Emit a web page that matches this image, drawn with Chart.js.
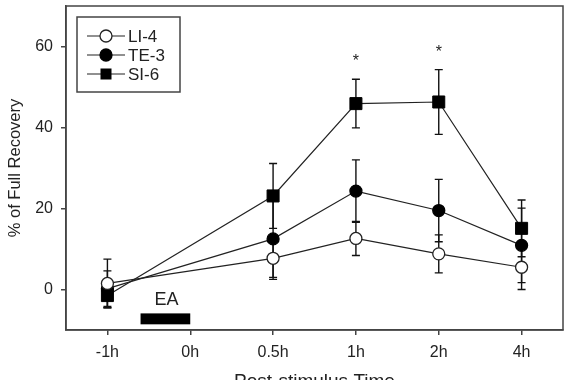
<!DOCTYPE html>
<html>
<head>
<meta charset="utf-8">
<script src="https://cdn.jsdelivr.net/npm/chart.js@4/dist/chart.umd.min.js"></script>
<style>
html, body { margin:0; padding:0; width:568px; height:380px; overflow:hidden; background:#fff; }
#wrap { position:relative; width:568px; height:396px; }
</style>
</head>
<body>
<div id="wrap"><canvas id="c"></canvas></div>
<script>
// ---- data ----
const timeLabels = ['-1h', '0h', '0.5h', '1h', '2h', '4h'];
const timeIndex = [0, 2, 3, 4, 5];           // positions (in timeLabels) of measured points
const seriesNames = ['LI-4', 'TE-3', 'SI-6'];
const li4Mean = [1.5, 7.7, 12.6, 8.8, 5.5];
const li4Err  = [6.0, 5.2, 4.2, 4.7, 5.5];
const te3Mean = [0.2, 12.5, 24.3, 19.5, 10.9];
const te3Err  = [4.4, 9.5, 7.7, 7.7, 9.2];
const si6Mean = [-1.5, 23.1, 45.9, 46.3, 15.1];
const si6Err  = [3.0, 8.0, 6.0, 8.0, 7.0];
const sigMarks = ['', '', '*', '*', ''];      // significance marks above SI-6
const yTicks = [0, 20, 40, 60];
const eaSpan = [0.4, 1.0];                    // EA stimulus interval (x units)
const eaLevel = [-5.9, -8.6];                 // EA bar vertical extent (y units)
const eaText = 'EA';

const FONT = '"Liberation Sans", Arial, sans-serif';
const INK = '#222';
const AXIS = '#444';

function pts(means) { return means.map((v, i) => ({ x: timeIndex[i], y: v })); }

const errs = [li4Err, te3Err, si6Err];

const datasets = [
  { label: seriesNames[0], data: pts(li4Mean), borderColor: INK, borderWidth: 1.2,
    pointStyle: 'circle', pointRadius: 6, pointBackgroundColor: '#fff', pointBorderColor: INK, pointBorderWidth: 1.3 },
  { label: seriesNames[1], data: pts(te3Mean), borderColor: INK, borderWidth: 1.2,
    pointStyle: 'circle', pointRadius: 6, pointBackgroundColor: '#000', pointBorderColor: '#000', pointBorderWidth: 1.3 },
  { label: seriesNames[2], data: pts(si6Mean), borderColor: INK, borderWidth: 1.2,
    pointStyle: 'rect', pointRadius: 8.5, pointBackgroundColor: '#000', pointBorderColor: '#000', pointBorderWidth: 1 }
];
datasets.forEach(d => { d.fill = false; d.tension = 0; d.pointHoverRadius = d.pointRadius; });

const errorBars = {
  id: 'errorBars',
  beforeDatasetsDraw(chart) {
    const { ctx, scales: { x, y } } = chart;
    ctx.save();
    ctx.strokeStyle = '#111';
    ctx.lineWidth = 1.4;
    chart.data.datasets.forEach((ds, di) => {
      ds.data.forEach((p, i) => {
        const e = errs[di][i];
        const px = x.getPixelForValue(p.x);
        const top = y.getPixelForValue(p.y + e);
        const bot = y.getPixelForValue(p.y - e);
        ctx.beginPath();
        ctx.moveTo(px, top); ctx.lineTo(px, bot);
        ctx.moveTo(px - 4, top); ctx.lineTo(px + 4, top);
        ctx.moveTo(px - 4, bot); ctx.lineTo(px + 4, bot);
        ctx.stroke();
      });
    });
    ctx.restore();
  }
};

const extras = {
  id: 'extras',
  afterDraw(chart) {
    const { ctx, chartArea: a, scales: { x, y } } = chart;
    ctx.save();
    // frame
    ctx.strokeStyle = AXIS;
    ctx.lineWidth = 1.5;
    ctx.strokeRect(a.left, a.top, a.right - a.left, a.bottom - a.top);
    // significance marks
    ctx.fillStyle = INK;
    ctx.font = '16px ' + FONT;
    ctx.textAlign = 'center';
    ctx.textBaseline = 'alphabetic';
    sigMarks.forEach((m, i) => {
      if (!m) return;
      const px = x.getPixelForValue(timeIndex[i]);
      const top = y.getPixelForValue(si6Mean[i] + si6Err[i]);
      ctx.fillText(m, px, top - 13);
    });
    // EA bar
    const x0 = x.getPixelForValue(eaSpan[0]), x1 = x.getPixelForValue(eaSpan[1]);
    const y0 = y.getPixelForValue(eaLevel[0]), y1 = y.getPixelForValue(eaLevel[1]);
    ctx.fillStyle = '#000';
    ctx.fillRect(x0, y0, x1 - x0, y1 - y0);
    ctx.fillStyle = INK;
    ctx.font = '18px ' + FONT;
    ctx.textBaseline = 'alphabetic';
    ctx.fillText(eaText, (x0 + x1) / 2 + 1, y0 - 8);
    // legend
    const lx = 77, ly = 17, lw = 103, lh = 75;
    ctx.fillStyle = '#fff';
    ctx.fillRect(lx, ly, lw, lh);
    ctx.strokeStyle = AXIS;
    ctx.lineWidth = 1.5;
    ctx.strokeRect(lx, ly, lw, lh);
    chart.data.datasets.forEach((ds, i) => {
      const cy = ly + 19 + i * 19;
      ctx.strokeStyle = INK;
      ctx.lineWidth = 1.2;
      ctx.beginPath(); ctx.moveTo(lx + 10, cy); ctx.lineTo(lx + 48, cy); ctx.stroke();
      const mx = lx + 29;
      ctx.fillStyle = ds.pointBackgroundColor;
      ctx.strokeStyle = ds.pointBorderColor;
      ctx.lineWidth = 1.3;
      if (ds.pointStyle === 'rect') {
        ctx.fillRect(mx - 5.5, cy - 5.5, 11, 11);
      } else {
        ctx.beginPath(); ctx.arc(mx, cy, 6, 0, Math.PI * 2); ctx.fill(); ctx.stroke();
      }
      ctx.fillStyle = INK;
      ctx.font = '17px ' + FONT;
      ctx.textAlign = 'left';
      ctx.textBaseline = 'middle';
      ctx.fillText(ds.label, lx + 51, cy + 1);
    });
    ctx.restore();
  }
};

new Chart(document.getElementById('c'), {
  type: 'line',
  data: { datasets },
  options: {
    responsive: true,
    maintainAspectRatio: false,
    animation: false,
    devicePixelRatio: 1,
    layout: { autoPadding: false, padding: { left: 0, right: 5, top: 6, bottom: 0 } },
    plugins: { legend: { display: false }, tooltip: { enabled: false } },
    scales: {
      x: {
        type: 'linear', min: -0.5, max: 5.5,
        afterBuildTicks: s => { s.ticks = timeLabels.map((_, i) => ({ value: i })); },
        afterFit: s => { s.height = 66; s.paddingLeft = 0; s.paddingRight = 0; },
        ticks: { callback: v => timeLabels[v] ?? '', color: INK, font: { family: FONT, size: 16 }, padding: 8, maxRotation: 0, autoSkip: false },
        grid: { drawOnChartArea: false, drawTicks: true, tickLength: 5, color: AXIS, lineWidth: 1.5 },
        border: { display: true, color: AXIS, width: 1.5 },
        title: { display: true, text: 'Post-stimulus Time', color: INK, font: { family: FONT, size: 19 }, padding: { top: 0, bottom: 3 } }
      },
      y: {
        type: 'linear', min: -10, max: 70,
        afterBuildTicks: s => { s.ticks = yTicks.map(v => ({ value: v })); },
        afterFit: s => { s.width = 66; s.paddingTop = 0; s.paddingBottom = 0; },
        ticks: { color: INK, font: { family: FONT, size: 16 }, padding: 8 },
        grid: { drawOnChartArea: false, drawTicks: true, tickLength: 5, color: AXIS, lineWidth: 1.5 },
        border: { display: true, color: AXIS, width: 1.5 },
        title: { display: true, text: '% of Full Recovery', color: INK, font: { family: FONT, size: 16.5 }, padding: { top: 6, bottom: 0 } }
      }
    }
  },
  plugins: [errorBars, extras]
});
</script>
</body>
</html>
